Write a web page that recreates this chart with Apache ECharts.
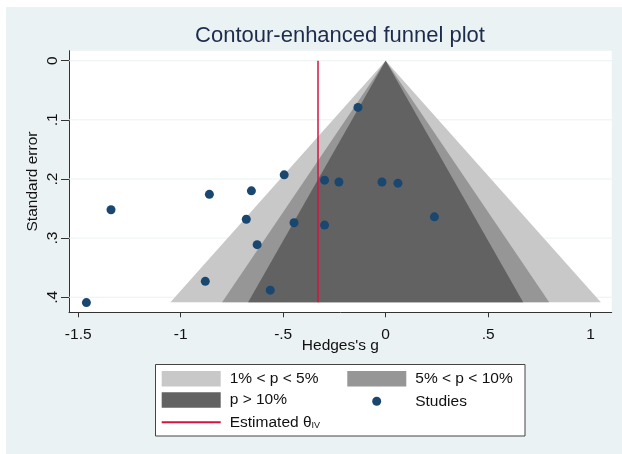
<!DOCTYPE html>
<html>
<head>
<meta charset="utf-8">
<title>Contour-enhanced funnel plot</title>
<script src="https://cdn.jsdelivr.net/npm/echarts@6/dist/echarts.min.js"></script>
<style>
  html, body { margin: 0; padding: 0; background: #fff; }
  .bg { position: absolute; left: 6px; top: 7px; width: 616px; height: 447px; background: #EAF2F3; }
  #chart { position: absolute; left: 0; top: 0; width: 622px; height: 454px; }
</style>
</head>
<body>
<div class="bg"></div>
<div id="chart"></div>
<script>
  // studies: effect size (Hedges's g) and standard error
  var studyG  = [-1.46, -1.34, -0.86, -0.655, -0.495, -0.68, -0.447, -0.627, -0.88, -0.563,
                 -0.135, -0.298, -0.228, -0.018, 0.06, 0.238, -0.298];
  var studySE = [0.409, 0.252, 0.226, 0.220, 0.193, 0.268, 0.274, 0.311, 0.373, 0.388,
                 0.079, 0.202, 0.205, 0.205, 0.207, 0.264, 0.278];

  // estimated theta (IV) and funnel contours (half width at the base)
  var thetaIV = -0.33;
  var funnelBaseSE = 0.4085;
  var contourNames = ['1% < p < 5%', '5% < p < 10%', 'p > 10%'];
  var contourHalfWidth = [1.05, 0.798, 0.671];
  var contourColors = ['#C8C8C8', '#969696', '#626262'];

  // tick labels
  var xTickValues = [-1.5, -1, -0.5, 0, 0.5, 1];
  var xTickLabels = ['-1.5', '-1', '-.5', '0', '.5', '1'];
  var yTickValues = [0, 0.1, 0.2, 0.3, 0.4];
  var yTickLabels = ['0', '.1', '.2', '.3', '.4'];

  var font = "'Liberation Sans', Arial, sans-serif";
  var dotColor = '#1A476F';
  var lineColor = '#D7143E';

  function tickLabel(values, labels) {
    return function (v) {
      for (var i = 0; i < values.length; i++) {
        if (Math.abs(values[i] - v) < 1e-9) return labels[i];
      }
      return '';
    };
  }

  var myChart = echarts.init(document.getElementById('chart'), null, { renderer: 'canvas' });

  var series = [];
  // horizontal grid lines, drawn under the funnel
  series.push({
    type: 'custom',
    z: 1,
    silent: true,
    data: yTickValues.map(function (v) { return [0, v]; }),
    renderItem: function (params, api) {
      var cs = params.coordSys;
      var y = api.coord([0, api.value(1)])[1];
      return {
        type: 'line',
        shape: { x1: cs.x, y1: y, x2: cs.x + cs.width, y2: y },
        style: { stroke: '#EAF2F3', lineWidth: 1 }
      };
    }
  });

  contourNames.forEach(function (name, i) {
    series.push({
      type: 'custom',
      name: name,
      silent: true,
      z: 2,
      itemStyle: { color: contourColors[i] },
      data: [[contourHalfWidth[i], funnelBaseSE]],
      renderItem: function (params, api) {
        var w = api.value(0), se = api.value(1);
        return {
          type: 'polygon',
          shape: { points: [api.coord([-w, se]), api.coord([0, 0]), api.coord([w, se])] },
          style: { fill: contourColors[i] }
        };
      }
    });
  });

  series.push({
    type: 'line',
    name: 'Estimated θIV',
    z: 3,
    silent: true,
    symbol: 'none',
    lineStyle: { color: lineColor, width: 1.5 },
    itemStyle: { color: lineColor },
    data: [[thetaIV, 0], [thetaIV, funnelBaseSE]]
  });

  series.push({
    type: 'scatter',
    name: 'Studies',
    z: 4,
    symbolSize: 9,
    itemStyle: { color: dotColor, opacity: 1 },
    data: studyG.map(function (g, i) { return [g, studySE[i]]; })
  });

  function legendAt(name, left, top, opts) {
    return Object.assign({
      data: [name],
      left: left,
      top: top,
      padding: 0,
      itemGap: 0,
      itemWidth: 59,
      itemHeight: 15.5,
      icon: 'rect',
      selectedMode: false,
      textStyle: {
        fontFamily: font, fontSize: 15.5, color: '#111',
        padding: [0, 0, 0, 4],
        rich: { sub: { fontFamily: font, fontSize: 9, color: '#111', verticalAlign: 'bottom' } }
      },
      formatter: function (n) { return n === 'Estimated θIV' ? 'Estimated θ{sub|IV}' : n; }
    }, opts || {});
  }

  myChart.setOption({
    textStyle: { fontFamily: font },
    animation: false,
    title: {
      text: 'Contour-enhanced funnel plot',
      left: 340,
      top: 25,
      padding: 0,
      textAlign: 'center',
      textStyle: { fontFamily: font, fontSize: 22, fontWeight: 'normal', color: '#1E2C4C' }
    },
    grid: {
      left: 69, right: 10.3, top: 50.7, bottom: 141.7,
      show: true, backgroundColor: '#fff', borderWidth: 0
    },
    xAxis: {
      type: 'value',
      min: -1.545, max: 1.103,
      name: "Hedges's g",
      nameLocation: 'middle',
      nameGap: 25,
      nameMoveOverlap: false,
      nameTextStyle: { fontFamily: font, fontSize: 15.5, color: '#111' },
      axisLine: { show: true, onZero: false, lineStyle: { color: '#333', width: 1 } },
      axisTick: { show: true, length: 5, customValues: xTickValues, lineStyle: { color: '#333' } },
      axisLabel: {
        customValues: xTickValues, margin: 14,
        fontFamily: font, fontSize: 15.5, color: '#111',
        formatter: tickLabel(xTickValues, xTickLabels)
      },
      splitLine: { show: false }
    },
    yAxis: {
      type: 'value',
      inverse: true,
      min: -0.0169, max: 0.4254,
      name: 'Standard error',
      nameLocation: 'middle',
      nameGap: 28,
      nameMoveOverlap: false,
      nameTextStyle: { fontFamily: font, fontSize: 15.5, color: '#111' },
      axisLine: { show: true, onZero: false, lineStyle: { color: '#333', width: 1 } },
      axisTick: { show: true, length: 8, customValues: yTickValues, lineStyle: { color: '#333' } },
      axisLabel: {
        customValues: yTickValues, margin: 8.5, rotate: 90,
        fontFamily: font, fontSize: 15.5, color: '#111',
        formatter: tickLabel(yTickValues, yTickLabels)
      },
      splitLine: { show: false }
    },
    graphic: [{
      type: 'rect',
      z: -1,
      shape: { x: 155.5, y: 364.5, width: 369.5, height: 71.5 },
      style: { fill: '#fff', stroke: '#444', lineWidth: 1 }
    }],
    legend: [
      legendAt(contourNames[0], 161.7, 370.7, { itemStyle: { color: contourColors[0] } }),
      legendAt(contourNames[1], 347.3, 370.7, { itemStyle: { color: contourColors[1] } }),
      legendAt(contourNames[2], 161.7, 392, { itemStyle: { color: contourColors[2] } }),
      legendAt('Studies', 372.2, 393.25, { icon: 'circle', itemHeight: 9, itemStyle: { color: dotColor } }),
      legendAt('Estimated θIV', 161.7, 414.25, { itemHeight: 2, itemStyle: { color: lineColor } })
    ],
    series: series
  });
</script>
</body>
</html>
